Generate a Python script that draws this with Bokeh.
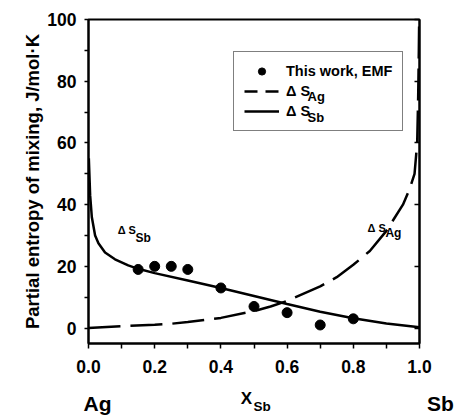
from bokeh.plotting import figure
from bokeh.layouts import column
from bokeh.models import Range1d, LinearAxis, Label, Legend, LegendItem, FixedTicker, NumeralTickFormatter
from bokeh.core.properties import value
from bokeh.embed import file_html
from bokeh.resources import INLINE

# EMF data (this work)
x_emf = [0.15, 0.20, 0.25, 0.30, 0.40, 0.50, 0.60, 0.70, 0.80]
s_emf = [19, 20, 20, 19, 13, 7, 5, 1, 3]

# Partial entropy of Sb (solid curve)
x_sb = [0.001, 0.005, 0.01, 0.02, 0.03, 0.05, 0.08, 0.12, 0.15, 0.20, 0.30,
        0.40, 0.50, 0.60, 0.70, 0.80, 0.90, 1.00]
s_sb = [55, 43, 36, 30, 27.5, 24.5, 22.3, 20.3, 19.2, 17.8, 15.4,
        13.0, 10.4, 7.8, 5.3, 3.2, 1.5, 0.3]

# Partial entropy of Ag (dashed curve)
x_ag = [0.0, 0.10, 0.20, 0.25, 0.30, 0.40, 0.50, 0.55, 0.60, 0.70, 0.75,
        0.80, 0.85, 0.90, 0.95, 0.97, 0.985, 0.993, 0.996, 0.998, 0.999]
s_ag = [0.0, 0.6, 1.1, 1.4, 2.0, 3.3, 5.5, 7.0, 8.8, 13.5, 16.5,
        20.5, 25.0, 31.5, 40.0, 45.0, 50.0, 60.0, 75.0, 90.0, 100.0]

x_ticks = [0.0, 0.2, 0.4, 0.6, 0.8, 1.0]
y_ticks = [0, 20, 40, 60, 80, 100]

FONT = "Liberation Sans"

p = figure(width=457, height=380, x_range=Range1d(0, 1), y_range=Range1d(-5, 100),
           output_backend="svg", toolbar_location=None,
           min_border_left=88, min_border_right=38, min_border_top=19, min_border_bottom=37)
p.frame_align = False
p.grid.visible = False
p.outline_line_color = "black"
p.outline_line_width = 2
p.background_fill_color = "white"
p.border_fill_color = "white"

# x axis
xa = p.xaxis[0]
xa.ticker = FixedTicker(ticks=x_ticks, minor_ticks=[0.1, 0.3, 0.5, 0.7, 0.9])
xa.formatter = NumeralTickFormatter(format="0.0")
xa.axis_line_width = 2
xa.major_tick_line_width = 1.5
xa.minor_tick_line_width = 1.5
xa.major_tick_in = 0
xa.major_tick_out = 5
xa.minor_tick_in = 0
xa.minor_tick_out = 5
xa.major_label_standoff = 11
xa.major_label_text_font = FONT
xa.major_label_text_font_style = "bold"
xa.major_label_text_font_size = "17.5px"
xa.major_label_text_color = "black"

# y axis
ya = p.yaxis[0]
ya.ticker = FixedTicker(ticks=y_ticks, minor_ticks=[10, 30, 50, 70, 90])
ya.formatter = NumeralTickFormatter(format="0")
ya.axis_line_width = 2
ya.major_tick_line_width = 1.5
ya.minor_tick_line_width = 1.5
ya.major_tick_in = 0
ya.major_tick_out = 4
ya.minor_tick_in = 0
ya.minor_tick_out = 4
ya.major_label_standoff = 8
ya.major_label_text_font = FONT
ya.major_label_text_font_style = "bold"
ya.major_label_text_font_size = "17.5px"
ya.major_label_text_color = "black"
ya.axis_label = "Partial entropy of mixing, J/mol\u00b7K"
ya.axis_label_text_font = FONT
ya.axis_label_text_font_style = "bold"
ya.axis_label_text_font_size = "18.5px"
ya.axis_label_text_color = "black"
ya.axis_label_standoff = 1

# right axis: inward ticks only (drawn as minor ticks, so no labels at all)
ra = LinearAxis(ticker=FixedTicker(ticks=[], minor_ticks=y_ticks))
ra.axis_line_width = 2
ra.major_tick_in = 0
ra.major_tick_out = 0
ra.minor_tick_in = 5
ra.minor_tick_out = 0
ra.minor_tick_line_width = 1.5
p.add_layout(ra, "right")

# curves
r_sb = p.line(x_sb, s_sb, line_color="black", line_width=2.5)
r_ag = p.line(x_ag, s_ag, line_color="black", line_width=2.5, line_dash="32 10")
r_pts = p.scatter(x_emf, s_emf, size=10, marker="circle", fill_color="black", line_color="black")

# legend key for the dashed curve (single point -> draws nothing in the plot)
r_ag_key = p.line(x_ag[:1], s_ag[:1], line_color="black", line_width=2.5, line_dash="13 8")

legend = Legend(items=[
    LegendItem(label="This work, EMF", renderers=[r_pts]),
    LegendItem(label="\u0394 S", renderers=[r_ag_key]),
    LegendItem(label="\u0394 S", renderers=[r_sb]),
], location=(145, 212))
legend.border_line_color = "black"
legend.border_line_width = 1
legend.background_fill_alpha = 0
legend.label_text_font = FONT
legend.label_text_font_style = "bold"
legend.label_text_font_size = "14.5px"
legend.label_text_color = "black"
legend.glyph_width = 35
legend.glyph_height = 18
legend.label_height = 18
legend.label_standoff = 7
legend.spacing = 2
legend.padding = 10
legend.margin = 0
p.add_layout(legend)


def lab(x, y, text, size):
    p.add_layout(Label(x=x, y=y, text=text, text_font=FONT, text_font_style="bold",
                       text_font_size=size, text_baseline="middle", text_align="left",
                       text_color="black"))

# legend subscripts
lab(0.662, 75.2, "Ag", "13px")
lab(0.662, 68.4, "Sb", "13px")

# in-plot curve labels
lab(0.088, 31.9, "\u0394 S", "11px")
lab(0.142, 29.3, "Sb", "12px")
lab(0.843, 32.5, "\u0394 S", "11px")
lab(0.897, 30.9, "Ag", "12px")

# strip below the chart for the component names and the x-axis title
q = figure(width=457, height=36, x_range=Range1d(0, 457), y_range=Range1d(416, 380),
           output_backend="svg", toolbar_location=None, x_axis_type=None, y_axis_type=None,
           min_border=0, min_border_left=0, min_border_right=0, min_border_top=0,
           min_border_bottom=0)
q.frame_align = False
q.grid.visible = False
q.outline_line_color = None
q.background_fill_color = "white"
q.border_fill_color = "white"

def qtext(x, y, t, size, align="left"):
    q.text(x=[x], y=[y], text=[t], text_font=value(FONT), text_font_style="bold",
           text_font_size=size, text_baseline="alphabetic", text_align=align,
           text_color="black")

qtext(83, 403, "Ag", "21px")
qtext(440, 403, "Sb", "21px", align="center")
qtext(246, 398, "X", "17px", align="center")
qtext(253, 406, "Sb", "13.5px")

open("out.html", "w").write(file_html(column(p, q, spacing=0), INLINE))
